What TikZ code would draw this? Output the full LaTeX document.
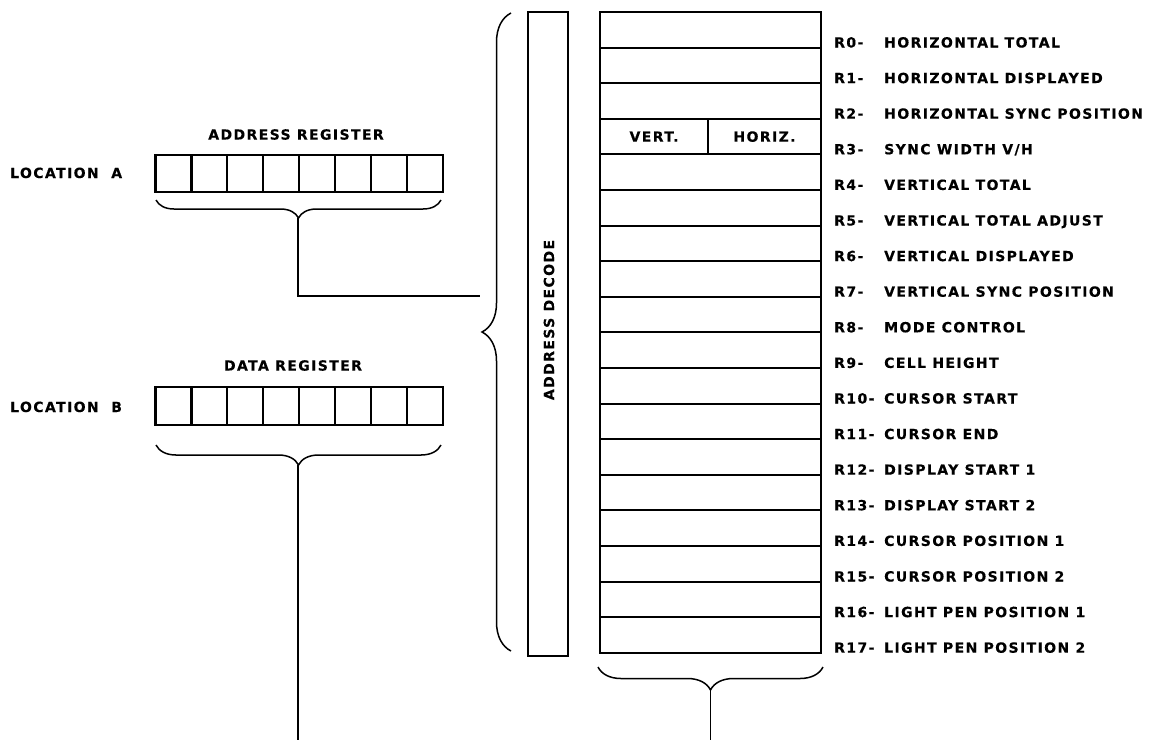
\documentclass[tikz,border=0pt]{standalone}
\usepackage{fontspec}
\newfontfamily\lettering[LetterSpace=10, BoldFont={DejaVu Sans Bold}, BoldFeatures={FakeBold=0.35}]{DejaVu Sans}
\usetikzlibrary{decorations.pathreplacing}
\tikzset{
    cell/.style={draw, line width=2.3pt, minimum width=35.9pt, minimum height=37.5pt, inner sep=0pt, outer sep=0pt},
    regrow/.style={draw, line width=2pt, minimum width=221pt, minimum height=35.6pt, inner sep=0pt, outer sep=0pt},
    decodebox/.style={draw, line width=2pt, minimum width=40pt, minimum height=644pt, inner sep=0pt},
    lettering/.style={font=\lettering\bfseries\fontsize{14}{16}\selectfont, inner sep=0pt},
    curly/.style={decorate, decoration={brace, amplitude=#1}, line width=1.5pt},
    wire/.style={line width=1.5pt}
}

\begin{document}
\begin{tikzpicture}[x=1pt, y=-1pt]
            \useasboundingbox (0,0) rectangle (1150,740);

            % ---------- Address register (location A) ----------
            \foreach \i in {0,...,7}
                \node[cell] (a\i) at ({173.45+35.9*\i},173.5) {};
            \node[lettering] (atitle) at (296,134.5) {ADDRESS REGISTER};
            \node[lettering, anchor=base west] (locA) at (10,178) {LOCATION\ \ A};
            \draw[curly=18pt] (441,200) -- (156,200);
            \coordinate (atip) at (298,218);

            % ---------- Data register (location B) ----------
            \foreach \i in {0,...,7}
                \node[cell] (d\i) at ({173.45+35.9*\i},406) {};
            \node[lettering] (dtitle) at (293,365.5) {DATA REGISTER};
            \node[lettering, anchor=base west] (locB) at (10,412) {LOCATION\ \ B};
            \draw[curly=20pt] (441,445) -- (156,445);
            \coordinate (dtip) at (298,465);
            \coordinate (dout) at (298,740);

            % ---------- Address decode ----------
            \node[decodebox] (decode) at (548,334) {};
            \node[lettering, rotate=90] (dlabel) at (549,320) {ADDRESS DECODE};
            \draw[curly=29pt] (511,651) -- (511,13);
            \coordinate (btip) at (480,296);

            % ---------- Register file R0--R17 ----------
            \foreach \i in {0,1,2,4,5,6,7,8,9,10,11,12,13,14,15,16,17}
                \node[regrow] (row\i) at (710.5,{12+35.6*(\i+0.5)}) {};
            \node[regrow, minimum width=108pt] (vert) at (654,136.6) {};
            \node[regrow, minimum width=113pt] (horiz) at (764.5,136.6) {};
            \node[lettering] at (vert) {VERT.};
            \node[lettering] at (horiz) {HORIZ.};
            \draw[line width=2.6pt] (row0.north west) rectangle (row17.south east);

            \foreach \i/\txt in {0/HORIZONTAL TOTAL, 1/HORIZONTAL DISPLAYED,
                    2/HORIZONTAL SYNC POSITION, 3/{SYNC WIDTH V/H}, 4/VERTICAL TOTAL,
                    5/VERTICAL TOTAL ADJUST, 6/VERTICAL DISPLAYED,
                    7/VERTICAL SYNC POSITION, 8/MODE CONTROL, 9/CELL HEIGHT,
                    10/CURSOR START, 11/CURSOR END, 12/DISPLAY START 1,
                    13/DISPLAY START 2, 14/CURSOR POSITION 1, 15/CURSOR POSITION 2,
                    16/LIGHT PEN POSITION 1, 17/LIGHT PEN POSITION 2}
                \node[lettering, anchor=base west] (lab\i) at (834,{47.5+35.6*\i})
                    {\makebox[50pt][l]{R\i-}\txt};

            \draw[curly=23pt] (823,667) -- (598,667);
            \coordinate (rtip) at (710.5,690);
            \coordinate (rout) at (710.5,740);

            % ---------- Wires ----------
            \draw[wire] (atip) |- (btip);
            \draw[wire] (dtip) -- (dout);
            \draw[wire] (rtip) -- (rout);
        \end{tikzpicture}
\end{document}
